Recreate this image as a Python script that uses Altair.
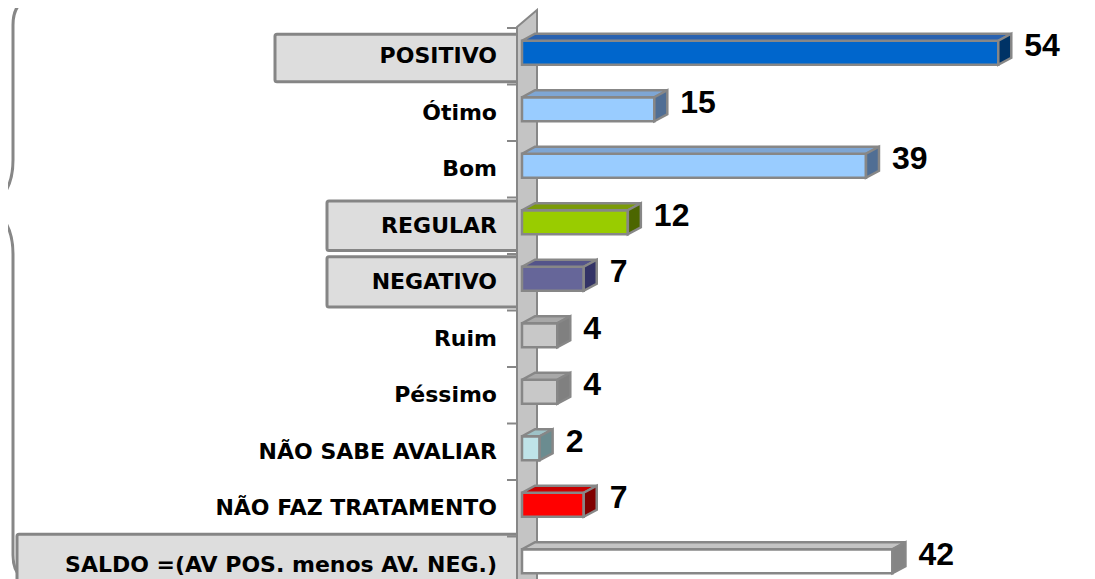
import altair as alt
import pandas as pd

# ---------------- data ----------------
categories = [
    "POSITIVO", "Ótimo", "Bom", "REGULAR", "NEGATIVO", "Ruim", "Péssimo",
    "NÃO SABE AVALIAR", "NÃO FAZ TRATAMENTO", "SALDO =(AV POS. menos AV. NEG.)",
]
values = [54, 15, 39, 12, 7, 4, 4, 2, 7, 42]

# ---------------- styles ----------------
front_colors = ["#0066CC", "#99CCFF", "#99CCFF", "#99CC00", "#666699", "#C8C8C8",
                "#C8C8C8", "#BFE3E8", "#FF0000", "#FFFFFF"]
top_colors = ["#2A62B0", "#7EA6D4", "#7EA6D4", "#7B9B0A", "#54548A", "#A8A8A8",
              "#A8A8A8", "#9EC2C7", "#C80000", "#C4C4C4"]
side_colors = ["#003366", "#506E94", "#506E94", "#4C6600", "#333366", "#808080",
               "#808080", "#6B8C90", "#800000", "#858585"]
# label boxes: left edge (px from plot origin), top / bottom offsets in rows
boxed = {"POSITIVO": (-247, -0.39, 0.45), "REGULAR": (-195, -0.44, 0.44),
         "NEGATIVO": (-195, -0.45, 0.44),
         "SALDO =(AV POS. menos AV. NEG.)": (-505, -0.54, 0.55)}

EDGE = "#878787"
PAD_L, PAD_T = 514, 20
ROW = 56.5            # px per category row
PXU = 8.82            # px per unit of value
W, H = 565, 551
XMAX = W / PXU
FT, FB = -15.5 / ROW, 8.5 / ROW      # front face top / bottom offsets
DY = 7 / ROW                          # depth (vertical)
DX = 13 / PXU                         # depth (horizontal)

df = pd.DataFrame({"cat": categories, "value": values, "row": list(range(len(categories)))})
df["front"] = front_colors
df["top"] = top_colors
df["side"] = side_colors
df["zero"] = 0.0
df["y0"] = df["row"] + FT
df["y1"] = df["row"] + FB

top_rows, side_rows = [], []
for rec in df.to_dict("records"):
    c, v, y0, y1 = rec["cat"], rec["value"], rec["y0"], rec["y1"]
    top_rows.append({"cat": c, "c": rec["top"], "yv": y0, "xa": 0.0, "xb": v})
    top_rows.append({"cat": c, "c": rec["top"], "yv": y0 - DY, "xa": DX, "xb": v + DX})
    side_rows.append({"cat": c, "c": rec["side"], "xv": v, "ya": y0, "yb": y1})
    side_rows.append({"cat": c, "c": rec["side"], "xv": v + DX, "ya": y0 - DY, "yb": y1 - DY})
df_top = pd.DataFrame(top_rows)
df_side = pd.DataFrame(side_rows)

xs = alt.Scale(domain=[0, XMAX], nice=False, zero=False)
ys = alt.Scale(domain=[-0.5, len(categories) - 0.5], range=[0, ROW * len(categories)], nice=False, zero=False)

base = alt.Chart(df)

# left braces (decoration)
brace_path = ("M -482 -31 Q -509 -31 -509 -3 L -509 132 Q -509 167 -534 179 "
              "M -534 179 Q -509 191 -509 226 L -509 527 Q -509 552 -487 555")
brace = alt.Chart(pd.DataFrame({"a": [0]})).mark_point(
    shape=brace_path, size=4, filled=False, stroke="#878787", strokeWidth=3, opacity=1
).encode(x=alt.value(0), y=alt.value(0))

# label boxes
boxes = []
for cat, (left, t_off, b_off) in boxed.items():
    boxes.append(
        alt.Chart(df[df["cat"] == cat]).transform_calculate(
            b0=f"datum.row + ({t_off})", b1=f"datum.row + ({b_off})"
        ).mark_rect(fill="#DDDDDD", stroke="#858585", strokeWidth=3, cornerRadius=2).encode(
            x=alt.value(left), x2=alt.value(-4),
            y=alt.Y("b0:Q", scale=ys, axis=None), y2="b1:Q",
        )
    )

# tick marks at row boundaries
ticks = base.transform_calculate(t="datum.row - 0.5").mark_rule(
    stroke="#878787", strokeWidth=2
).encode(x=alt.value(-15), x2=alt.value(-5), y=alt.Y("t:Q", scale=ys, axis=None))

# 3-D side wall (decoration)
wall = alt.Chart(pd.DataFrame({"a": [0]})).mark_point(
    shape="M -5 -1 L 15 -18 L 15 620 L -5 620 Z", size=4, filled=True,
    fill="#C4C4C4", stroke="#878787", strokeWidth=2, opacity=1
).encode(x=alt.value(0), y=alt.value(0))

labels = base.mark_text(
    align="right", baseline="middle", font="DejaVu Sans", fontWeight="bold",
    fontSize=22, color="black"
).encode(x=alt.value(-25), y=alt.Y("row:Q", scale=ys, axis=None), text="cat:N")

front = base.mark_rect(stroke=EDGE, strokeWidth=2.5).encode(
    x=alt.X("zero:Q", scale=xs, axis=None), x2="value:Q",
    y=alt.Y("y0:Q", scale=ys, axis=None), y2="y1:Q",
    fill=alt.Fill("front:N", scale=None),
)

top = alt.Chart(df_top).mark_area(orient="horizontal", stroke=EDGE, strokeWidth=2.5, opacity=1).encode(
    y=alt.Y("yv:Q", scale=ys, axis=None),
    x=alt.X("xb:Q", scale=xs, axis=None), x2="xa:Q",
    detail="cat:N",
    fill=alt.Fill("c:N", scale=None),
)

side = alt.Chart(df_side).mark_area(orient="vertical", stroke=EDGE, strokeWidth=2.5, opacity=1).encode(
    x=alt.X("xv:Q", scale=xs, axis=None),
    y=alt.Y("ya:Q", scale=ys, axis=None), y2="yb:Q",
    detail="cat:N",
    fill=alt.Fill("c:N", scale=None),
)

vlabels = base.mark_text(
    align="left", baseline="middle", dx=26, dy=-10, font="Liberation Sans",
    fontWeight="bold", fontSize=32, color="black"
).encode(x=alt.X("value:Q", scale=xs, axis=None), y=alt.Y("row:Q", scale=ys, axis=None), text="value:Q")

chart = alt.layer(brace, *boxes, ticks, wall, labels, front, top, side, vlabels).properties(
    width=W, height=H,
    autosize=alt.AutoSizeParams(type="none"),
    padding={"left": PAD_L, "top": PAD_T, "right": 0, "bottom": 0},
    background="white",
).configure_view(stroke=None)

chart.save("out.html", embed_options={"renderer": "svg", "actions": False})
